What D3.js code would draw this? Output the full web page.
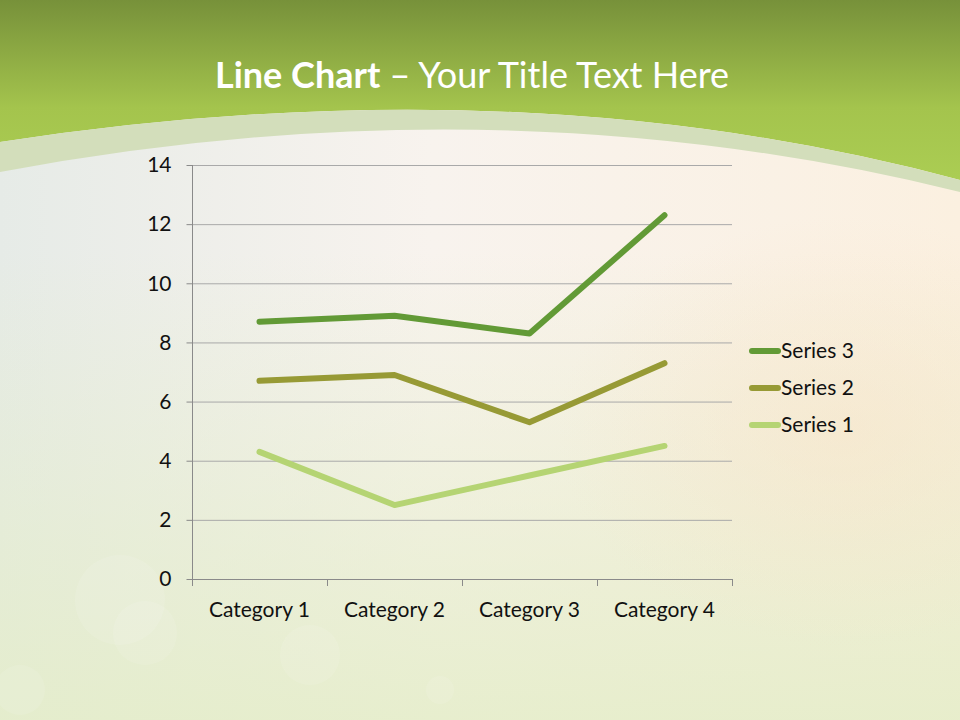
<!DOCTYPE html>
<html>
<head>
<meta charset="utf-8">
<script src="https://cdn.jsdelivr.net/npm/d3@7"></script>
<style>
html,body{margin:0;padding:0;background:#fff;}
svg{display:block;}
</style>
</head>
<body>
<svg id="chart" width="960" height="720"></svg>
<script>
// ---- data ----
const categories = ["Category 1", "Category 2", "Category 3", "Category 4"];
const seriesNames = ["Series 1", "Series 2", "Series 3"];
const series1 = [4.3, 2.5, 3.5, 4.5];
const series2 = [2.4, 4.4, 1.8, 2.8];
const series3 = [2, 2, 3, 5];
const yTicks = [0, 2, 4, 6, 8, 10, 12, 14];
const seriesColors = ["#b5d473", "#979a35", "#629a36"];
const titleBold = "Line Chart";
const titleRest = " \u2013 Your Title Text Here";

(function () {
const W = 960, H = 720;
const svg = d3.select("#chart");
const defs = svg.append("defs");

// ---- background ----
const bgH = defs.append("linearGradient").attr("id", "bgH").attr("x1", 0).attr("x2", 1).attr("y1", 0).attr("y2", 0);
bgH.append("stop").attr("offset", 0).attr("stop-color", "#e6ebe7");
bgH.append("stop").attr("offset", 0.45).attr("stop-color", "#f8f3ee");
bgH.append("stop").attr("offset", 1).attr("stop-color", "#fbf0e0");
svg.append("rect").attr("width", W).attr("height", H).attr("fill", "url(#bgH)");

const bgV = defs.append("linearGradient").attr("id", "bgV").attr("x1", 0).attr("x2", 0).attr("y1", 0).attr("y2", 1);
bgV.append("stop").attr("offset", 0.35).attr("stop-color", "#e4edc8").attr("stop-opacity", 0);
bgV.append("stop").attr("offset", 1).attr("stop-color", "#e4edc8").attr("stop-opacity", 0.85);
svg.append("rect").attr("width", W).attr("height", H).attr("fill", "url(#bgV)");

const bgR = defs.append("radialGradient").attr("id", "bgR").attr("cx", 0.88).attr("cy", 0.6).attr("r", 0.3);
bgR.append("stop").attr("offset", 0).attr("stop-color", "#f9e2c6").attr("stop-opacity", 0.45);
bgR.append("stop").attr("offset", 1).attr("stop-color", "#f9e2c6").attr("stop-opacity", 0);
svg.append("rect").attr("width", W).attr("height", H).attr("fill", "url(#bgR)");

// faint bokeh
const bokeh = [[145, 633, 32], [120, 600, 45], [20, 690, 25], [310, 655, 30], [440, 690, 14]];
svg.append("g").selectAll("circle").data(bokeh).join("circle")
  .attr("cx", d => d[0]).attr("cy", d => d[1]).attr("r", d => d[2])
  .attr("fill", "#ffffff").attr("opacity", 0.1);

// ---- header ----
const hdr = defs.append("linearGradient").attr("id", "hdr").attr("x1", 0).attr("x2", 0).attr("y1", 0).attr("y2", 1);
hdr.append("stop").attr("offset", 0).attr("stop-color", "#77913a");
hdr.append("stop").attr("offset", 0.6).attr("stop-color", "#a4c44d");
hdr.append("stop").attr("offset", 1).attr("stop-color", "#abcd53");
svg.append("path")
  .attr("d", "M0,0 L960,0 L960,180 Q520,62 0,142 Z")
  .attr("fill", "url(#hdr)");
svg.append("path")
  .attr("d", "M0,142 Q520,62 960,180 L960,192 Q500,78 0,172 Z")
  .attr("fill", "#d3debb");

// title
const title = svg.append("text").attr("x", 472).attr("y", 88)
  .attr("text-anchor", "middle").attr("fill", "#ffffff")
  .attr("font-family", "Lato, 'Open Sans', sans-serif").attr("font-size", 36);
title.append("tspan").attr("font-weight", "bold").text(titleBold);
title.append("tspan").text(titleRest);

// ---- chart ----
const pl = 192, pr = 732, pt = 165, pb = 579;
const x = d3.scaleBand().domain(categories).range([pl, pr]);
const y = d3.scaleLinear().domain([0, 14]).range([pb, pt]);

const rows = categories.map((c, i) => ({cat: c, "Series 1": series1[i], "Series 2": series2[i], "Series 3": series3[i]}));
const stacked = d3.stack().keys(seriesNames)(rows);

const font = "Lato, 'Open Sans', sans-serif";
const fs = 21;
// gridlines
svg.append("g").selectAll("line").data(yTicks.filter(t => t > 0)).join("line")
  .attr("x1", pl).attr("x2", pr)
  .attr("y1", d => y(d) + 0.5).attr("y2", d => y(d) + 0.5)
  .attr("stroke", "#a9a9a9").attr("stroke-width", 1);

// y axis
const yAxis = svg.append("g").attr("transform", `translate(${pl + 0.5},0)`)
  .call(d3.axisLeft(y).tickValues(yTicks).tickSize(6).tickPadding(15));
yAxis.select(".domain").attr("stroke", "#8a8a8a").attr("d", `M0,${pt}V${pb}`);
yAxis.selectAll(".tick line").attr("stroke", "#8a8a8a");
yAxis.selectAll("text").attr("font-family", font).attr("font-size", fs).attr("fill", "#111");

// x axis
const xAxis = svg.append("g").attr("transform", `translate(0,${pb + 0.5})`)
  .call(d3.axisBottom(x).tickSize(0).tickPadding(23));
xAxis.select(".domain").attr("stroke", "#8a8a8a").attr("d", `M${pl},0H${pr}`);
xAxis.selectAll("text").attr("font-family", font).attr("font-size", fs).attr("fill", "#111");
// category boundary ticks
const bounds = categories.map(c => x(c)).concat([pr]);
svg.append("g").selectAll("line").data(bounds).join("line")
  .attr("x1", d => Math.round(d) + 0.5).attr("x2", d => Math.round(d) + 0.5)
  .attr("y1", pb).attr("y2", pb + 7)
  .attr("stroke", "#8a8a8a");

// lines
const line = d3.line()
  .x((d, i) => x(categories[i]) + x.bandwidth() / 2)
  .y(d => y(d[1]));
svg.append("g").selectAll("path").data(stacked).join("path")
  .attr("d", d => line(d))
  .attr("fill", "none")
  .attr("stroke", (d, i) => seriesColors[i])
  .attr("stroke-width", 6)
  .attr("stroke-linecap", "round")
  .attr("stroke-linejoin", "round");

// legend
const legendOrder = seriesNames.map((n, i) => ({name: n, color: seriesColors[i]})).reverse();
const lg = svg.append("g").selectAll("g").data(legendOrder).join("g")
  .attr("transform", (d, i) => `translate(752,${351 + i * 37})`);
lg.append("line").attr("x1", 0).attr("x2", 26).attr("y1", 0).attr("y2", 0)
  .attr("stroke", d => d.color).attr("stroke-width", 6).attr("stroke-linecap", "round");
lg.append("text").attr("x", 29).attr("y", 0).attr("dy", "0.35em")
  .attr("font-family", font).attr("font-size", fs).attr("fill", "#111")
  .text(d => d.name);
})();
</script>
</body>
</html>
